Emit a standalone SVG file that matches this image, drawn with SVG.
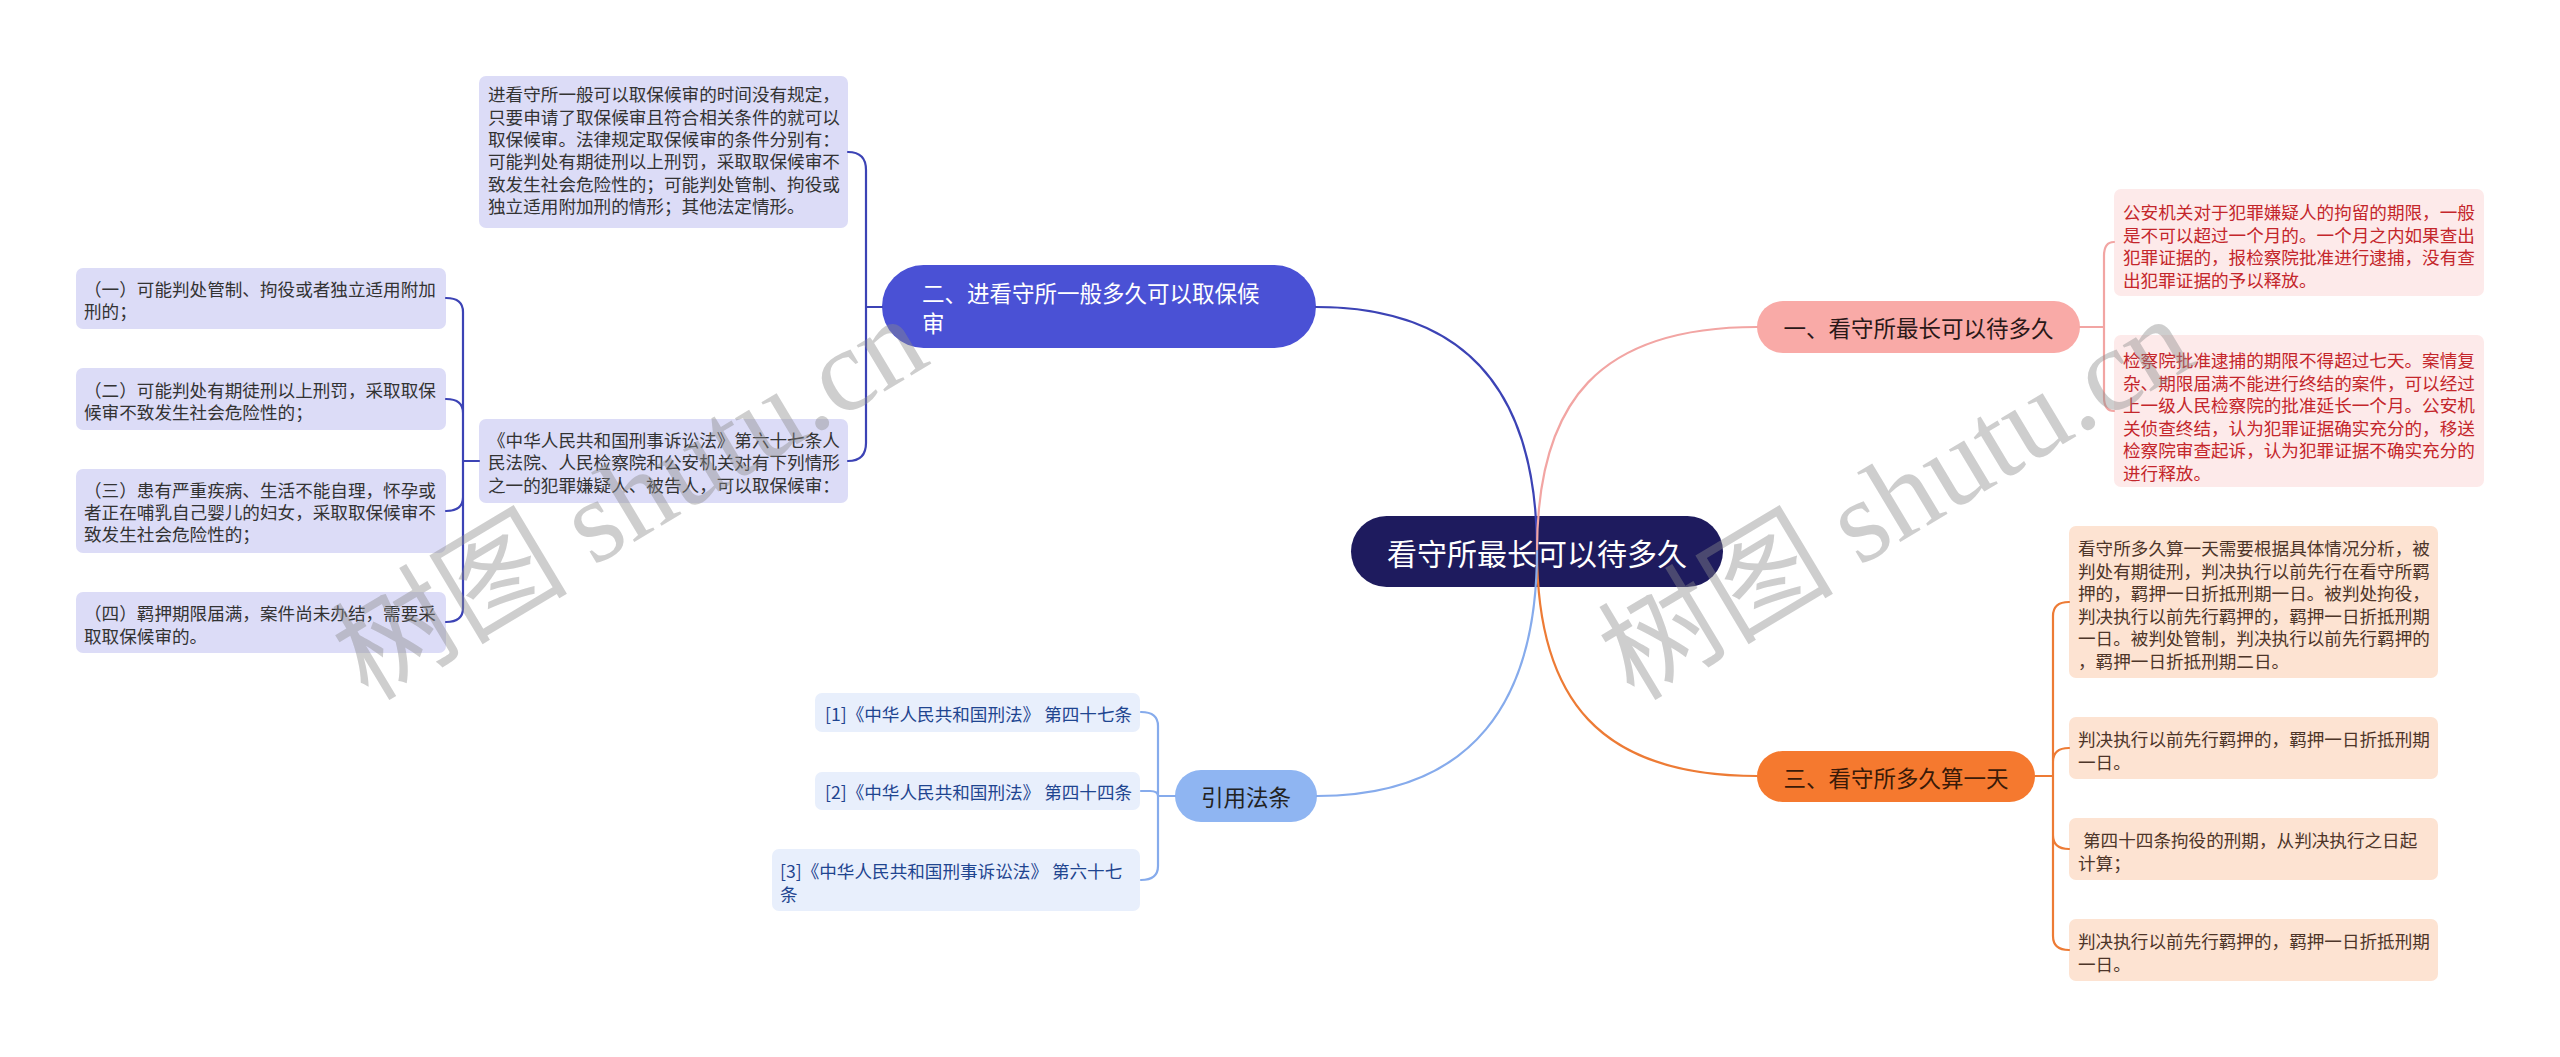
<svg xmlns="http://www.w3.org/2000/svg" width="2560" height="1057" viewBox="0 0 2560 1057">
<style>
text{font-family:"Noto Sans CJK SC","Noto Sans",sans-serif;}
.s{font-size:17.6px;dominant-baseline:central;}
.lav{fill:#dcdcf7;}
.lavt{fill:#333333;}
.pk{fill:#fdeaea;}
.pkt{fill:#c4262b;}
.pe{fill:#fde3d2;}
.pet{fill:#4d3529;}
.ci{fill:#e8effc;}
.cit{fill:#1f4590;}
.br{font-size:22.5px;dominant-baseline:central;}
.c{fill:none;stroke-width:2.2;stroke-linecap:round;}
.wm{font-size:118px;fill:#8a8a8a;fill-opacity:0.42;}
.wm tspan.l{font-family:"Liberation Serif",serif;}
</style>
<rect width="2560" height="1057" fill="#ffffff"/>

<g id="center">
<rect x="1351" y="516" width="372" height="71" rx="35.5" fill="#1e1b5e"/>
<text x="1537" y="551.5" text-anchor="middle" style="font-size:30px;dominant-baseline:central" fill="#ffffff">看守所最长可以待多久</text>
</g>

<g id="b1">
<rect x="1757" y="301" width="323" height="52" rx="26" fill="#f9aaa7"/>
<text class="br" x="1918.5" y="327" text-anchor="middle" fill="#2a1818">一、看守所最长可以待多久</text>
</g>
<g id="b1c1">
<rect class="pk" x="2114" y="189" width="370" height="107" rx="7"/>
<text class="s pkt"><tspan x="2123" y="211">公安机关对于犯罪嫌疑人的拘留的期限，一般</tspan><tspan x="2123" y="233.5">是不可以超过一个月的。一个月之内如果查出</tspan><tspan x="2123" y="256">犯罪证据的，报检察院批准进行逮捕，没有查</tspan><tspan x="2123" y="278.5">出犯罪证据的予以释放。</tspan></text>
</g>
<g id="b1c2">
<rect class="pk" x="2114" y="335" width="370" height="152" rx="7"/>
<text class="s pkt"><tspan x="2123" y="359">检察院批准逮捕的期限不得超过七天。案情复</tspan><tspan x="2123" y="381.5">杂、期限届满不能进行终结的案件，可以经过</tspan><tspan x="2123" y="404">上一级人民检察院的批准延长一个月。公安机</tspan><tspan x="2123" y="426.5">关侦查终结，认为犯罪证据确实充分的，移送</tspan><tspan x="2123" y="449">检察院审查起诉，认为犯罪证据不确实充分的</tspan><tspan x="2123" y="471.5">进行释放。</tspan></text>
</g>

<g id="b2">
<rect x="882" y="265" width="434" height="83" rx="41.5" fill="#4a51d5"/>
<text class="br" fill="#ffffff"><tspan x="922" y="292">二、进看守所一般多久可以取保候</tspan><tspan x="922" y="322">审</tspan></text>
</g>
<g id="b2c1">
<rect class="lav" x="479" y="76" width="369" height="152" rx="7"/>
<text class="s lavt"><tspan x="488" y="93">进看守所一般可以取保候审的时间没有规定，</tspan><tspan x="488" y="115.5">只要申请了取保候审且符合相关条件的就可以</tspan><tspan x="488" y="138">取保候审。法律规定取保候审的条件分别有：</tspan><tspan x="488" y="160">可能判处有期徒刑以上刑罚，采取取保候审不</tspan><tspan x="488" y="182.5">致发生社会危险性的；可能判处管制、拘役或</tspan><tspan x="488" y="205">独立适用附加刑的情形；其他法定情形。</tspan></text>
</g>
<g id="b2c2">
<rect class="lav" x="479" y="419" width="369" height="84" rx="7"/>
<text class="s lavt"><tspan x="488" y="438.5">《中华人民共和国刑事诉讼法》第六十七条人</tspan><tspan x="488" y="461">民法院、人民检察院和公安机关对有下列情形</tspan><tspan x="488" y="483.5">之一的犯罪嫌疑人、被告人，可以取保候审：</tspan></text>
</g>
<g id="b2c2c1">
<rect class="lav" x="76" y="268" width="370" height="61" rx="7"/>
<text class="s lavt"><tspan x="84" y="288">（一）可能判处管制、拘役或者独立适用附加</tspan><tspan x="84" y="310">刑的；</tspan></text>
</g>
<g id="b2c2c2">
<rect class="lav" x="76" y="368" width="370" height="62" rx="7"/>
<text class="s lavt"><tspan x="84" y="388.5">（二）可能判处有期徒刑以上刑罚，采取取保</tspan><tspan x="84" y="410.5">候审不致发生社会危险性的；</tspan></text>
</g>
<g id="b2c2c3">
<rect class="lav" x="76" y="469" width="370" height="84" rx="7"/>
<text class="s lavt"><tspan x="84" y="489">（三）患有严重疾病、生活不能自理，怀孕或</tspan><tspan x="84" y="511">者正在哺乳自己婴儿的妇女，采取取保候审不</tspan><tspan x="84" y="533">致发生社会危险性的；</tspan></text>
</g>
<g id="b2c2c4">
<rect class="lav" x="76" y="592" width="370" height="61" rx="7"/>
<text class="s lavt"><tspan x="84" y="612">（四）羁押期限届满，案件尚未办结，需要采</tspan><tspan x="84" y="634.5">取取保候审的。</tspan></text>
</g>

<g id="b3">
<rect x="1757" y="751" width="278" height="51" rx="25.5" fill="#f5792f"/>
<text class="br" x="1896" y="776.5" text-anchor="middle" fill="#3a1a08">三、看守所多久算一天</text>
</g>
<g id="b3c1">
<rect class="pe" x="2069" y="526" width="369" height="152" rx="7"/>
<text class="s pet"><tspan x="2078" y="547">看守所多久算一天需要根据具体情况分析，被</tspan><tspan x="2078" y="569.5">判处有期徒刑，判决执行以前先行在看守所羁</tspan><tspan x="2078" y="592">押的，羁押一日折抵刑期一日。被判处拘役，</tspan><tspan x="2078" y="614.5">判决执行以前先行羁押的，羁押一日折抵刑期</tspan><tspan x="2078" y="637">一日。被判处管制，判决执行以前先行羁押的</tspan><tspan x="2078" y="659.5">，羁押一日折抵刑期二日。</tspan></text>
</g>
<g id="b3c2">
<rect class="pe" x="2069" y="717" width="369" height="62" rx="7"/>
<text class="s pet"><tspan x="2078" y="738">判决执行以前先行羁押的，羁押一日折抵刑期</tspan><tspan x="2078" y="761">一日。</tspan></text>
</g>
<g id="b3c3">
<rect class="pe" x="2069" y="818" width="369" height="62" rx="7"/>
<text class="s pet"><tspan x="2083" y="839">第四十四条拘役的刑期，从判决执行之日起</tspan><tspan x="2078" y="862">计算；</tspan></text>
</g>
<g id="b3c4">
<rect class="pe" x="2069" y="919" width="369" height="62" rx="7"/>
<text class="s pet"><tspan x="2078" y="940">判决执行以前先行羁押的，羁押一日折抵刑期</tspan><tspan x="2078" y="963">一日。</tspan></text>
</g>

<g id="b4">
<rect x="1175" y="770" width="142" height="52" rx="26" fill="#8fb5f2"/>
<text class="br" x="1246" y="796" text-anchor="middle" fill="#222222">引用法条</text>
</g>
<g id="b4c1">
<rect class="ci" x="815" y="693" width="325" height="39" rx="7"/>
<text class="s cit" x="825" y="713">[1]《中华人民共和国刑法》 第四十七条</text>
</g>
<g id="b4c2">
<rect class="ci" x="815" y="772" width="325" height="38" rx="7"/>
<text class="s cit" x="825" y="791.5">[2]《中华人民共和国刑法》 第四十四条</text>
</g>
<g id="b4c3">
<rect class="ci" x="772" y="849" width="368" height="62" rx="7"/>
<text class="s cit"><tspan x="780" y="870">[3]《中华人民共和国刑事诉讼法》 第六十七</tspan><tspan x="780" y="892.5">条</tspan></text>
</g>

<g id="connectors">
<path class="c" stroke="#3c43b5" d="M1537 551 C1537 400 1474 307 1316 307"/>
<path class="c" stroke="#f2a5a3" d="M1537 551 C1537 400 1600 327 1757 327"/>
<path class="c" stroke="#ed7b35" d="M1537 551 C1537 700 1600 776 1757 776"/>
<path class="c" stroke="#86abec" d="M1537 551 C1537 700 1474 796 1317 796"/>

<path class="c" stroke="#f2a5a3" d="M2080 327 H2104 V256 Q2104 242 2114 242 M2104 327 V397 Q2104 411 2114 411"/>

<path class="c" stroke="#3c43b5" d="M882 307 H866 V170 Q866 152 848 152 M866 307 V443 Q866 461 848 461"/>
<path class="c" stroke="#3c43b5" d="M479 461 H463 V312 Q463 298 446 298 M463 461 V413 Q463 399 446 399 M463 461 V497 Q463 511 446 511 M463 461 V608 Q463 622 446 622"/>

<path class="c" stroke="#ed7b35" d="M2035 776 H2053 V616 Q2053 602 2069 602 M2053 776 V762 Q2053 748 2069 748 M2053 776 V835 Q2053 849 2069 849 M2053 776 V936 Q2053 950 2069 950"/>

<path class="c" stroke="#86abec" d="M1175 796 H1158 V726 Q1158 712 1141 712 M1158 796 Q1158 791 1150 791 H1141 M1158 796 V866 Q1158 880 1141 880"/>
</g>

<g id="watermark">
<text class="wm" transform="translate(368 702) rotate(-31)">树图 <tspan class="l">shutu.cn</tspan></text>
<text class="wm" transform="translate(1634 702) rotate(-31)">树图 <tspan class="l">shutu.cn</tspan></text>
</g>
</svg>
